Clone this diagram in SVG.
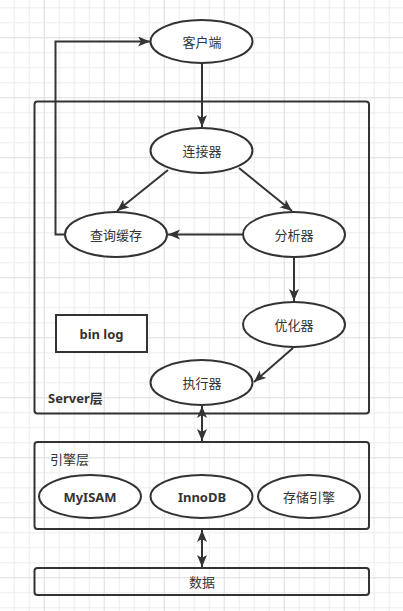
<svg xmlns="http://www.w3.org/2000/svg" width="403" height="611" viewBox="0 0 403 611">
<defs>
<pattern id="grid" patternUnits="userSpaceOnUse" x="43.7" y="37.3" width="60" height="60">
<path d="M15.5,0V60M30.5,0V60M45.5,0V60M0,15.5H60M0,30.5H60M0,45.5H60" stroke="#ececec" stroke-width="1" fill="none"/>
<path d="M0.5,0V60M0,0.5H60" stroke="#dddddd" stroke-width="1" fill="none"/>
</pattern>
<marker id="arr" markerUnits="userSpaceOnUse" markerWidth="14" markerHeight="12" refX="12" refY="5" orient="auto">
<path d="M0,0 L12,5 L0,10 L3,5 z" fill="#333"/>
</marker>
<marker id="arrS" markerUnits="userSpaceOnUse" markerWidth="14" markerHeight="12" refX="0" refY="5" orient="auto">
<path d="M12,0 L0,5 L12,10 L9,5 z" fill="#333"/>
</marker>
</defs>
<style>
.shape{fill:#fff;stroke:#333;stroke-width:2}
.box{fill:none;stroke:#333;stroke-width:2}
.t{font-family:"Noto Sans","Noto Sans CJK SC",sans-serif;font-size:13px;fill:#333;text-anchor:middle;dominant-baseline:central}
.b{font-weight:bold}
.l{text-anchor:start}
.c{fill:none;stroke:#333;stroke-width:2}
</style>
<rect width="403" height="611" fill="#fff"/>
<rect width="403" height="611" fill="url(#grid)"/>

<g id="server-layer">
<rect class="box" x="34.5" y="101.5" width="334.5" height="312" rx="3"/>
<text class="t b l" x="48" y="398">Server层</text>
</g>
<g id="engine-layer">
<rect class="box" x="34.5" y="442" width="334.5" height="87" rx="3"/>
<text class="t l" x="50" y="459">引擎层</text>
</g>
<g id="data">
<rect class="box" x="34.5" y="568" width="334.5" height="27" rx="3"/>
<text class="t" x="202" y="581.5">数据</text>
</g>

<g id="connectors">
<path class="c" d="M202,63 V127" marker-end="url(#arr)"/>
<path class="c" d="M168,170 L117,211" marker-end="url(#arr)"/>
<path class="c" d="M239,168 L292,211" marker-end="url(#arr)"/>
<path class="c" d="M243,234.5 H168" marker-end="url(#arr)"/>
<path class="c" d="M294,257 V301" marker-end="url(#arr)"/>
<path class="c" d="M293,348 L254,382" marker-end="url(#arr)"/>
<path class="c" d="M65,234.5 H55.5 V41.5 H150" marker-end="url(#arr)"/>
<path class="c" d="M202,406 V441" marker-start="url(#arrS)" marker-end="url(#arr)"/>
<path class="c" d="M202,530 V567" marker-start="url(#arrS)" marker-end="url(#arr)"/>
</g>

<g id="client">
<ellipse class="shape" cx="201.5" cy="41.5" rx="51" ry="21.5"/>
<text class="t" x="202" y="42">客户端</text>
</g>
<g id="connector">
<ellipse class="shape" cx="201.5" cy="150.5" rx="51" ry="22.5"/>
<text class="t" x="202" y="151">连接器</text>
</g>
<g id="query-cache">
<ellipse class="shape" cx="116" cy="234.5" rx="51" ry="22.5"/>
<text class="t" x="116" y="235">查询缓存</text>
</g>
<g id="analyzer">
<ellipse class="shape" cx="294" cy="234.5" rx="51" ry="22.5"/>
<text class="t" x="294" y="235">分析器</text>
</g>
<g id="binlog">
<rect class="shape" x="56" y="315" width="91" height="37"/>
<text class="t b" x="101.5" y="333.5">bin log</text>
</g>
<g id="optimizer">
<ellipse class="shape" cx="294" cy="324.5" rx="51" ry="22.5"/>
<text class="t" x="294" y="325">优化器</text>
</g>
<g id="executor">
<ellipse class="shape" cx="201.5" cy="382.5" rx="51" ry="22.5"/>
<text class="t" x="202" y="383">执行器</text>
</g>
<g id="myisam">
<ellipse class="shape" cx="90" cy="496.5" rx="51" ry="21.5"/>
<text class="t b" x="90" y="497">MyISAM</text>
</g>
<g id="innodb">
<ellipse class="shape" cx="201.5" cy="496.5" rx="51" ry="21.5"/>
<text class="t b" x="202" y="497">InnoDB</text>
</g>
<g id="storage-engine">
<ellipse class="shape" cx="309" cy="496.5" rx="51" ry="21.5"/>
<text class="t" x="309" y="497">存储引擎</text>
</g>
</svg>
